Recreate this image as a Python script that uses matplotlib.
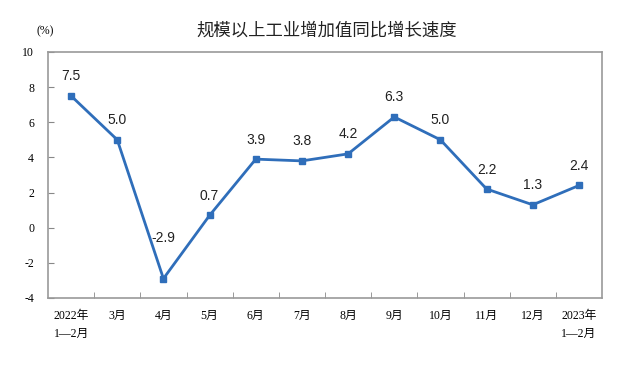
import matplotlib
matplotlib.use("Agg")
import matplotlib.pyplot as plt

# 规模以上工业增加值同比增长速度
months = ["2022年\n1—2月", "3月", "4月", "5月", "6月", "7月", "8月", "9月",
          "10月", "11月", "12月", "2023年\n1—2月"]
growth = [7.5, 5.0, -2.9, 0.7, 3.9, 3.8, 4.2, 6.3, 5.0, 2.2, 1.3, 2.4]
yticks = [-4, -2, 0, 2, 4, 6, 8, 10]

cjk_serif = ["Liberation Serif", "Noto Sans CJK SC"]
cjk_sans = ["Noto Sans CJK SC", "DejaVu Sans"]

fig = plt.figure(figsize=(6.26, 3.66), dpi=100)
ax = fig.add_axes([0.0767, 0.186, 0.885, 0.672])

x = list(range(len(months)))
ax.plot(x, growth, color="#2F6EBA", linewidth=2.0, marker="s",
        markersize=4.5, zorder=3)

for i, v in enumerate(growth):
    # the trough label sits higher so it clears the steep line
    dy = 24 if i == 2 else 9
    ax.annotate(f"{v:.1f}", (x[i], v), xytext=(0, dy), textcoords="offset points",
                ha="center", va="bottom", fontsize=10, family="Liberation Sans",
                color="#222222")

ax.set_xlim(-0.5, len(months) - 0.5)
ax.set_ylim(-4, 10)
ax.set_yticks(yticks)
ax.set_yticklabels([str(t) for t in yticks], family="Liberation Serif",
                   fontsize=8.5)

# category labels centered, tick marks on the boundaries
ax.set_xticks(x)
ax.set_xticklabels(months, family=cjk_serif, fontsize=8.5, linespacing=1.6,
                   va="top")
ax.set_xticks([i + 0.5 for i in x[:-1]], minor=True)
ax.tick_params(axis="x", which="major", length=0, pad=9)
ax.tick_params(axis="x", which="minor", direction="in", length=4,
               color="#888888")
ax.tick_params(axis="y", direction="in", length=4, color="#888888", pad=10)

for s in ax.spines.values():
    s.set_color("#999999")
    s.set_linewidth(1.2)

fig.text(0.072, 0.915, "(%)", family="Liberation Serif", fontsize=8.5,
         ha="center", va="center")
fig.text(0.522, 0.915, "规模以上工业增加值同比增长速度", family=cjk_sans,
         fontsize=12.5, ha="center", va="center", color="#222222")

fig.savefig("out.png", dpi=100)
